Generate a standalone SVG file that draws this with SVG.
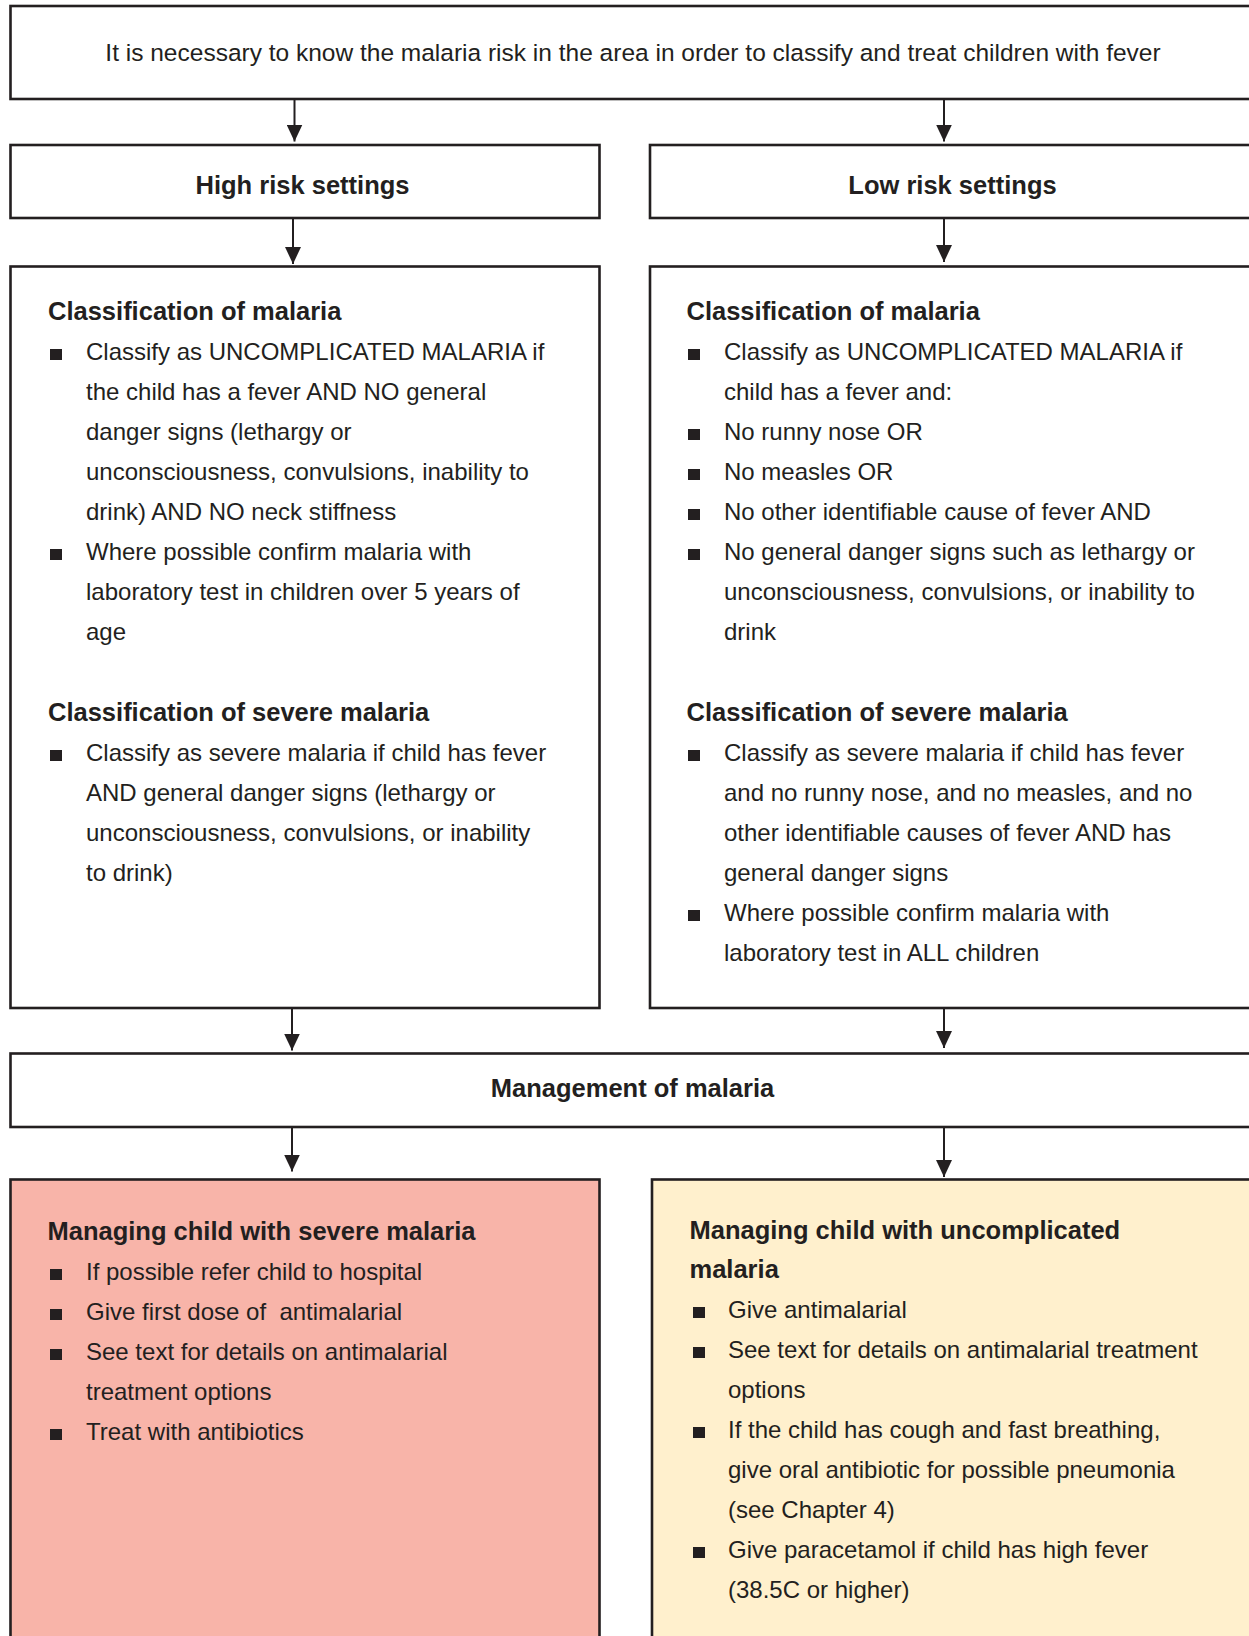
<svg xmlns="http://www.w3.org/2000/svg" width="1249" height="1636" viewBox="0 0 1249 1636">
<style>
.box{fill:#fff;stroke:#231f20;stroke-width:2.6}
.pink{fill:#f8b4a9}
.cream{fill:#fff0cd}
.t{font-family:"Liberation Sans",Arial,sans-serif;font-size:24px;fill:#231f20}
.tt{font-size:24.5px}
.h{font-family:"Liberation Sans",Arial,sans-serif;font-size:25.5px;font-weight:bold;fill:#231f20}
.c{text-anchor:middle}
.b{fill:#231f20}
.con{stroke:#231f20;stroke-width:2;fill:none;marker-end:url(#arr)}
</style>
<defs>
<marker id="arr" markerUnits="userSpaceOnUse" markerWidth="18" markerHeight="16" refX="17" refY="8" orient="auto">
<path d="M0,0 L17,8 L0,16 Z" fill="#231f20"/>
</marker>
<rect id="bul" width="12" height="11"/>
</defs>
<rect width="1249" height="1636" fill="#fff"/>

<g id="connectors">
<line class="con" x1="294.5" y1="99" x2="294.5" y2="141.5"/>
<line class="con" x1="944" y1="99" x2="944" y2="141.5"/>
<line class="con" x1="293" y1="218" x2="293" y2="264"/>
<line class="con" x1="944" y1="218" x2="944" y2="262"/>
<line class="con" x1="292" y1="1008" x2="292" y2="1050.5"/>
<line class="con" x1="944" y1="1008" x2="944" y2="1048"/>
<line class="con" x1="292" y1="1127" x2="292" y2="1171.5"/>
<line class="con" x1="944" y1="1127" x2="944" y2="1177"/>
</g>

<g id="top">
<rect class="box" x="10.5" y="6" width="1250" height="93"/>
<text class="t tt c" x="633" y="61">It is necessary to know the malaria risk in the area in order to classify and treat children with fever</text>
</g>

<g id="high">
<rect class="box" x="10.5" y="145" width="589" height="73"/>
<text class="h c" x="302.5" y="194">High risk settings</text>
</g>

<g id="low">
<rect class="box" x="650" y="145" width="610" height="73"/>
<text class="h c" x="952.5" y="194">Low risk settings</text>
</g>

<g id="class-high">
<rect class="box" x="10.5" y="266.5" width="589" height="741.5"/>
<text class="h" x="48" y="320">Classification of malaria</text>
<use href="#bul" class="b" x="50" y="349"/>
<text class="t" x="86" y="360">Classify as UNCOMPLICATED MALARIA if</text>
<text class="t" x="86" y="400">the child has a fever AND NO general</text>
<text class="t" x="86" y="440">danger signs (lethargy or</text>
<text class="t" x="86" y="480">unconsciousness, convulsions, inability to</text>
<text class="t" x="86" y="520">drink) AND NO neck stiffness</text>
<use href="#bul" class="b" x="50" y="549"/>
<text class="t" x="86" y="560">Where possible confirm malaria with</text>
<text class="t" x="86" y="600">laboratory test in children over 5 years of</text>
<text class="t" x="86" y="640">age</text>
<text class="h" x="48" y="721">Classification of severe malaria</text>
<use href="#bul" class="b" x="50" y="750"/>
<text class="t" x="86" y="761">Classify as severe malaria if child has fever</text>
<text class="t" x="86" y="801">AND general danger signs (lethargy or</text>
<text class="t" x="86" y="841">unconsciousness, convulsions, or inability</text>
<text class="t" x="86" y="881">to drink)</text>
</g>

<g id="class-low">
<rect class="box" x="650" y="266.5" width="610" height="741.5"/>
<text class="h" x="686.5" y="320">Classification of malaria</text>
<use href="#bul" class="b" x="688" y="349"/>
<text class="t" x="724" y="360">Classify as UNCOMPLICATED MALARIA if</text>
<text class="t" x="724" y="400">child has a fever and:</text>
<use href="#bul" class="b" x="688" y="429"/>
<text class="t" x="724" y="440">No runny nose OR</text>
<use href="#bul" class="b" x="688" y="469"/>
<text class="t" x="724" y="480">No measles OR</text>
<use href="#bul" class="b" x="688" y="509"/>
<text class="t" x="724" y="520">No other identifiable cause of fever AND</text>
<use href="#bul" class="b" x="688" y="549"/>
<text class="t" x="724" y="560">No general danger signs such as lethargy or</text>
<text class="t" x="724" y="600">unconsciousness, convulsions, or inability to</text>
<text class="t" x="724" y="640">drink</text>
<text class="h" x="686.5" y="721">Classification of severe malaria</text>
<use href="#bul" class="b" x="688" y="750"/>
<text class="t" x="724" y="761">Classify as severe malaria if child has fever</text>
<text class="t" x="724" y="801">and no runny nose, and no measles, and no</text>
<text class="t" x="724" y="841">other identifiable causes of fever AND has</text>
<text class="t" x="724" y="881">general danger signs</text>
<use href="#bul" class="b" x="688" y="910"/>
<text class="t" x="724" y="921">Where possible confirm malaria with</text>
<text class="t" x="724" y="961">laboratory test in ALL children</text>
</g>

<g id="management">
<rect class="box" x="10.5" y="1053.5" width="1250" height="73.5"/>
<text class="h c" x="632.5" y="1097">Management of malaria</text>
</g>

<g id="severe">
<rect class="box pink" x="10.5" y="1179.5" width="589" height="500"/>
<text class="h" x="47.5" y="1240">Managing child with severe malaria</text>
<use href="#bul" class="b" x="50" y="1269"/>
<text class="t" x="86" y="1280">If possible refer child to hospital</text>
<use href="#bul" class="b" x="50" y="1309"/>
<text class="t" x="86" y="1320">Give first dose of&#160; antimalarial</text>
<use href="#bul" class="b" x="50" y="1349"/>
<text class="t" x="86" y="1360">See text for details on antimalarial</text>
<text class="t" x="86" y="1400">treatment options</text>
<use href="#bul" class="b" x="50" y="1429"/>
<text class="t" x="86" y="1440">Treat with antibiotics</text>
</g>

<g id="uncomplicated">
<rect class="box cream" x="652" y="1179.5" width="610" height="500"/>
<text class="h" x="689.5" y="1239">Managing child with uncomplicated</text>
<text class="h" x="689.5" y="1278">malaria</text>
<use href="#bul" class="b" x="693" y="1307"/>
<text class="t" x="728" y="1318">Give antimalarial</text>
<use href="#bul" class="b" x="693" y="1347"/>
<text class="t" x="728" y="1358">See text for details on antimalarial treatment</text>
<text class="t" x="728" y="1398">options</text>
<use href="#bul" class="b" x="693" y="1427"/>
<text class="t" x="728" y="1438">If the child has cough and fast breathing,</text>
<text class="t" x="728" y="1478">give oral antibiotic for possible pneumonia</text>
<text class="t" x="728" y="1518">(see Chapter 4)</text>
<use href="#bul" class="b" x="693" y="1547"/>
<text class="t" x="728" y="1558">Give paracetamol if child has high fever</text>
<text class="t" x="728" y="1598">(38.5C or higher)</text>
</g>
</svg>
